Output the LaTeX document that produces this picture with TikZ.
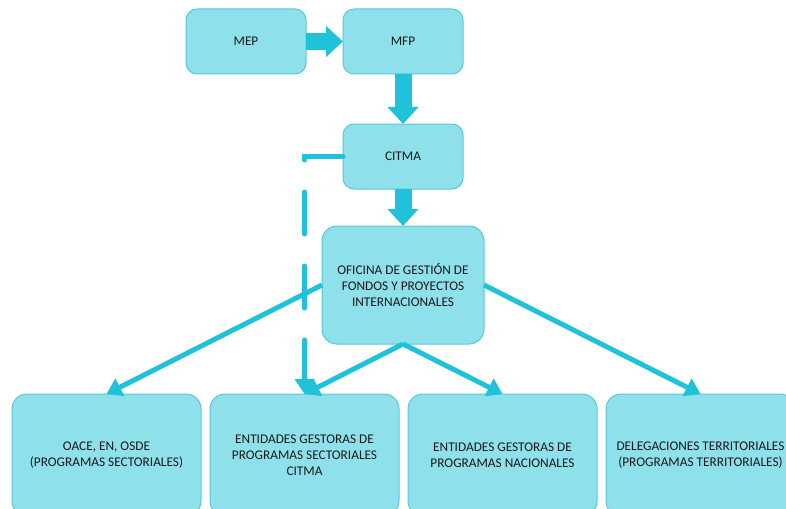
\documentclass[tikz,border=0pt]{standalone}
\usepackage{fontspec}
\setmainfont{Carlito}
\usetikzlibrary{positioning, arrows.meta}
\definecolor{boxfill}{RGB}{142,224,234}
\definecolor{boxline}{RGB}{86,200,220}
\definecolor{arrowcol}{RGB}{32,194,218}
\definecolor{txt}{RGB}{25,25,25}
\tikzset{
    unit/.style={draw=boxline, fill=boxfill, line width=1pt, rounded corners=11pt,
        minimum width=120pt, minimum height=65pt, inner sep=2pt, outer sep=0pt,
        align=center, text=txt, font=\fontsize{13.3}{16}\selectfont},
    office/.style={unit, minimum width=162pt, minimum height=118pt, rounded corners=15pt},
    branch/.style={unit, minimum width=189pt, minimum height=122pt, rounded corners=15pt},
    fat/.style={arrowcol, line width=17pt, -{Triangle[width=30pt,length=17pt]}},
    thin/.style={arrowcol, line width=5pt, -{Triangle[width=19pt,length=15pt]}},
    link/.style={thin, line cap=round, dash pattern=on 42pt off 32pt}
}
\begin{document}
\begin{tikzpicture}[x=1pt, y=1pt, node distance=37pt]
    \useasboundingbox (0,0) rectangle (786,-508);
    \node[unit] (MEP) at (246,-41.5) {MEP};
    \node[unit] (MFP) [right=of MEP] {MFP};
    \node[unit] (CITMA) [below=50pt of MFP] {CITMA};
    \node[office] (OFI) [below=of CITMA] {OFICINA DE GESTIÓN DE\\FONDOS Y PROYECTOS\\INTERNACIONALES};
    \node[branch] (B1) at (106.5,-455) {OACE, EN, OSDE\\(PROGRAMAS SECTORIALES)};
    \node[branch] (B2) [right=9pt of B1] {ENTIDADES GESTORAS DE\\PROGRAMAS SECTORIALES\\CITMA};
    \node[branch] (B3) [right=9pt of B2] {ENTIDADES GESTORAS DE\\PROGRAMAS NACIONALES};
    \node[branch] (B4) [right=9pt of B3] {DELEGACIONES TERRITORIALES\\(PROGRAMAS TERRITORIALES)};
    % flujo principal
    \draw[fat] (MEP) -- (MFP);
    \draw[fat] (MFP) -- (CITMA);
    \draw[fat] (CITMA) -- (OFI);
    % reparto
    \draw[thin] (OFI.west) -- (B1.north);
    \draw[thin] (OFI.south) -- (B2.north);
    \draw[thin] (OFI.south) -- (B3.north);
    \draw[thin] (OFI.east) -- (B4.north);
    \draw[link] (CITMA.west) -| (B2.north);
\end{tikzpicture}
\end{document}
